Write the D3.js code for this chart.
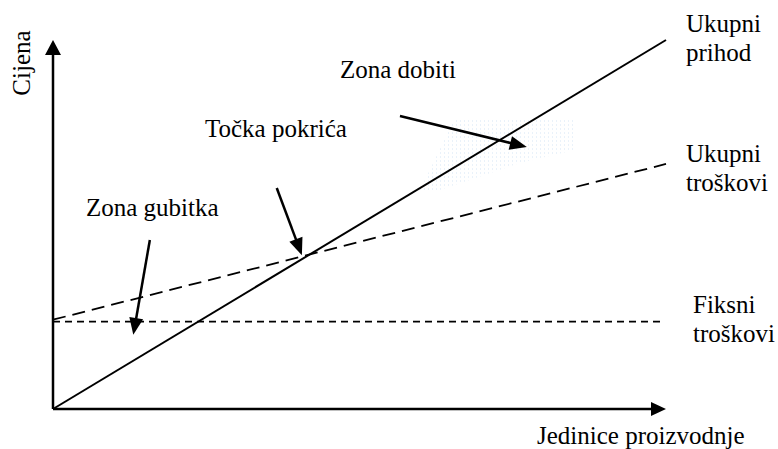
<!DOCTYPE html>
<html>
<head>
<meta charset="utf-8">
<script src="https://cdn.jsdelivr.net/npm/d3@7"></script>
<style>
  body { margin: 0; background: #fff; }
</style>
</head>
<body>
<svg id="viz"></svg>
<script>
// ---------------------------
// Data (abstract units 0..100)
// ---------------------------

const revenue = [[0, 0], [100, 100]];
const totalCost = [[0, 24.2], [100, 66.4]];
const fixedCost = [[0, 23.7], [99.2, 23.7]];

// annotation arrows: [from, to]
const arrowDobiti = [[56.6, 79.4], [77.3, 71.0]];
const arrowPokrica = [[36.5, 59.9], [40.6, 41.7]];
const arrowGubitka = [[15.8, 45.8], [13.1, 20.1]];

const yTitle = "Cijena";
const xTitle = "Jedinice proizvodnje";
const zoneLabels = ["Zona dobiti", "Točka pokrića", "Zona gubitka"];
const lineLabels = [["Ukupni", "prihod"], ["Ukupni", "troškovi"], ["Fiksni", "troškovi"]];

// ---------------------------
// Create SVG
// ---------------------------

const width = 778;
const height = 449;
const serif = "'Liberation Serif', 'Times New Roman', Times, serif";

const svg = d3.select("#viz")
    .attr("width", width)
    .attr("height", height)
    .attr("font-family", serif);

const x = d3.scaleLinear().domain([0, 100]).range([53, 666]);
const y = d3.scaleLinear().domain([0, 100]).range([409, 40]);

const line = d3.line().x(d => x(d[0])).y(d => y(d[1]));

// faint dotted shading in the profit zone
const defs = svg.append("defs");
const pat = defs.append("pattern")
    .attr("id", "dots")
    .attr("width", 4).attr("height", 4)
    .attr("patternUnits", "userSpaceOnUse");
pat.append("rect").attr("width", 1).attr("height", 2).attr("fill", "#c4dbf0");

svg.append("path")
    .attr("d", "M455,118 L575,118 L575,150 L520,163 L440,190 L420,190 Z")
    .attr("fill", "url(#dots)")
    .attr("opacity", 0.35);

// ---------------------------
// Axes with arrow heads
// ---------------------------

svg.append("line")
    .attr("x1", x(0)).attr("y1", y(0))
    .attr("x2", x(0)).attr("y2", y(100) + 12)
    .attr("stroke", "#000").attr("stroke-width", 2.5);

svg.append("path")
    .attr("d", `M${x(0)},${y(100)} L${x(0) - 8},${y(100) + 15} L${x(0) + 8},${y(100) + 15} Z`)
    .attr("fill", "#000");

svg.append("line")
    .attr("x1", x(0)).attr("y1", y(0))
    .attr("x2", x(100) - 12).attr("y2", y(0))
    .attr("stroke", "#000").attr("stroke-width", 2.5);

svg.append("path")
    .attr("d", `M${x(100)},${y(0)} L${x(100) - 15},${y(0) - 7} L${x(100) - 15},${y(0) + 7} Z`)
    .attr("fill", "#000");

// ---------------------------
// Lines
// ---------------------------

svg.append("path")
    .attr("d", line(fixedCost))
    .attr("fill", "none")
    .attr("stroke", "#000")
    .attr("stroke-width", 1.8)
    .attr("stroke-dasharray", "7,5");

svg.append("path")
    .attr("d", line(totalCost))
    .attr("fill", "none")
    .attr("stroke", "#000")
    .attr("stroke-width", 1.8)
    .attr("stroke-dasharray", "13,7");

svg.append("path")
    .attr("d", line(revenue))
    .attr("fill", "none")
    .attr("stroke", "#000")
    .attr("stroke-width", 2);

// ---------------------------
// Annotation arrows
// ---------------------------

function arrow(a){
    const x1 = x(a[0][0]), y1 = y(a[0][1]);
    const x2 = x(a[1][0]), y2 = y(a[1][1]);
    const ang = Math.atan2(y2 - y1, x2 - x1);
    const len = 17, half = 7;
    const bx = x2 - len * Math.cos(ang), by = y2 - len * Math.sin(ang);
    const px = -Math.sin(ang) * half, py = Math.cos(ang) * half;

    svg.append("line")
        .attr("x1", x1).attr("y1", y1)
        .attr("x2", bx + Math.cos(ang) * 2).attr("y2", by + Math.sin(ang) * 2)
        .attr("stroke", "#000").attr("stroke-width", 2.5);

    svg.append("path")
        .attr("d", `M${x2},${y2} L${bx + px},${by + py} L${bx - px},${by - py} Z`)
        .attr("fill", "#000");
}

arrow(arrowDobiti);
arrow(arrowPokrica);
arrow(arrowGubitka);

// ---------------------------
// Text
// ---------------------------

const fs = 25;

function label(xp, yp, t){
    return svg.append("text")
        .attr("x", xp).attr("y", yp)
        .attr("font-family", serif)
        .attr("font-size", fs)
        .attr("fill", "#000")
        .text(t);
}

label(0, 0, yTitle)
    .attr("transform", "translate(30,63) rotate(-90)")
    .attr("text-anchor", "middle");

label(537, 444, xTitle);

const zonePos = [[340, 78], [205, 137], [86, 216]];
zoneLabels.forEach((t, i) => label(zonePos[i][0], zonePos[i][1], t));

const labelPos = [[686, 32], [686, 162], [693, 313]];
lineLabels.forEach((pair, i) => {
    pair.forEach((t, j) => label(labelPos[i][0], labelPos[i][1] + j * 29, t));
});
</script>
</body>
</html>
